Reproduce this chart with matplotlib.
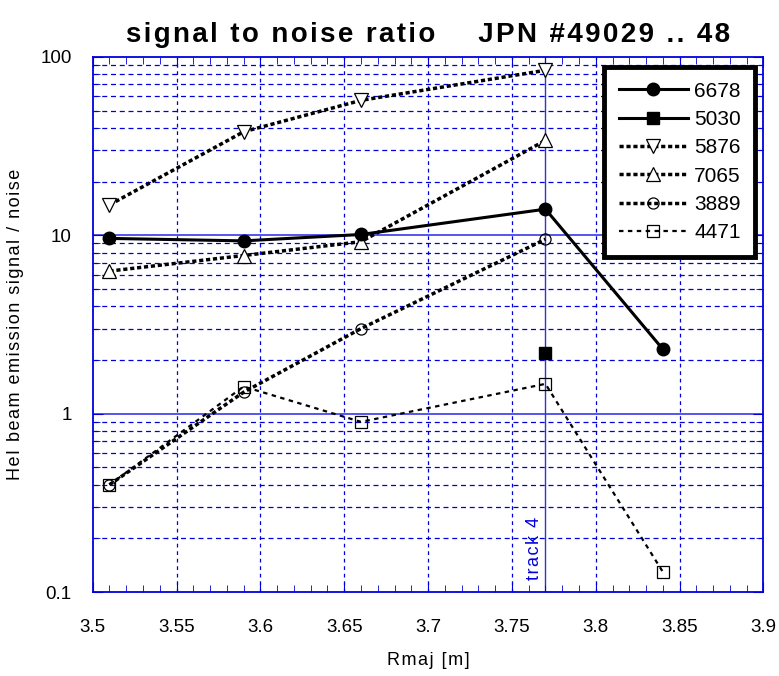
import numpy as np
import matplotlib.pyplot as plt
from matplotlib.ticker import FixedLocator, NullFormatter, MultipleLocator

# data
x_6678 = [3.51, 3.59, 3.66, 3.77, 3.84]
y_6678 = [9.6, 9.3, 10.1, 14.0, 2.3]
x_5030 = [3.77]
y_5030 = [2.2]
x_5876 = [3.51, 3.59, 3.66, 3.77]
y_5876 = [14.8, 38.0, 57.0, 84.0]
x_7065 = [3.51, 3.59, 3.66, 3.77]
y_7065 = [6.3, 7.7, 9.2, 34.0]
x_3889 = [3.51, 3.59, 3.66, 3.77]
y_3889 = [0.4, 1.32, 3.0, 9.5]
x_4471 = [3.51, 3.59, 3.66, 3.77, 3.84]
y_4471 = [0.4, 1.42, 0.9, 1.47, 0.13]

xticks = [3.5, 3.55, 3.6, 3.65, 3.7, 3.75, 3.8, 3.85, 3.9]
yticks = [0.1, 1, 10, 100]
ytick_labels = ["0.1", "1", "10", "100"]
track_x = 3.77

plt.rcParams['font.family'] = ['Liberation Sans', 'DejaVu Sans']


def spaced(s, sep="\u200a"):
    # the original uses a letter-spaced font
    return sep.join(s)


fig = plt.figure(figsize=(7.79, 6.76), dpi=100)
ax = fig.add_axes([0.119, 0.124, 0.861, 0.792])
ax.set_yscale("log")
ax.set_xlim(3.5, 3.9)
ax.set_ylim(0.1, 100)

blue = "#0000dd"
# grid
minor_y = [m * 10.0 ** e for e in (-1, 0, 1) for m in range(2, 10)]
for v in minor_y:
    ax.axhline(v, color=blue, lw=0.9, ls=(0, (4, 3)), zorder=0)
for v in (1, 10):
    ax.axhline(v, color="#5555ee", lw=1.4, zorder=0)
for v in xticks[1:-1]:
    ax.axvline(v, color=blue, lw=0.9, ls=(0, (3, 3)), zorder=0)
ax.axvline(track_x, color="#3333cc", lw=1.0, zorder=1)
ax.text(track_x - 0.0015, 0.117, spaced("track 4"), rotation=90, color=blue,
        fontsize=13, ha="right", va="bottom")

thick_dot = (0, (1.2, 0.8))
ax.plot(x_6678, y_6678, color="black", lw=2.2, marker="o", ms=9,
        mfc="black", label="6678", zorder=5)
ax.plot(x_5030, y_5030, color="black", lw=2.2, marker="s", ms=9,
        mfc="black", label="5030", zorder=5)
ax.plot(x_5876, y_5876, color="black", lw=2.5, ls=thick_dot, marker="v",
        ms=10, mfc="white", mew=0.9, label="5876", zorder=4)
ax.plot(x_7065, y_7065, color="black", lw=2.5, ls=thick_dot, marker="^",
        ms=10, mfc="white", mew=0.9, label="7065", zorder=4)
ax.plot(x_3889, y_3889, color="black", lw=2.5, ls=thick_dot, marker="o",
        ms=8, mfc="none", mew=0.9, label="3889", zorder=4)
ax.plot(x_4471, y_4471, color="black", lw=1.6, ls=(0, (2, 2)), marker="s",
        ms=8, mfc="none", mew=0.9, label="4471", zorder=4)

ax.set_xticks(xticks)
ax.set_xticklabels([f"{t:g}" for t in xticks])
ax.xaxis.set_minor_locator(MultipleLocator(0.01))
ax.yaxis.set_major_locator(FixedLocator(yticks))
ax.set_yticklabels(ytick_labels)
ax.yaxis.set_minor_locator(FixedLocator(minor_y))
ax.yaxis.set_minor_formatter(NullFormatter())
ax.tick_params(which="both", direction="in", top=True, right=True,
               color=blue, labelsize=13.5)
ax.tick_params(axis="x", pad=19)
ax.tick_params(axis="y", pad=15)
ax.tick_params(which="major", length=7)
ax.tick_params(which="minor", length=5)
for s in ax.spines.values():
    s.set_color(blue)
    s.set_linewidth(1.3)

ax.set_xlabel(spaced("Rmaj [m]"), fontsize=13, labelpad=12)
ax.set_ylabel(spaced("HeI beam emission signal / noise"),
              fontsize=13, labelpad=12)
ax.set_title(spaced("signal to noise ratio    JPN #49029 .. 48"),
             fontsize=20, fontweight="bold", pad=11)

leg = ax.legend(loc="upper right", bbox_to_anchor=(0.988, 0.981),
                borderaxespad=0, fontsize=15, handlelength=3.3,
                handletextpad=0.3, labelspacing=0.45, borderpad=0.7,
                fancybox=False, framealpha=1, edgecolor="black")
leg.get_frame().set_linewidth(3.5)

fig.savefig("out.png", dpi=100)
